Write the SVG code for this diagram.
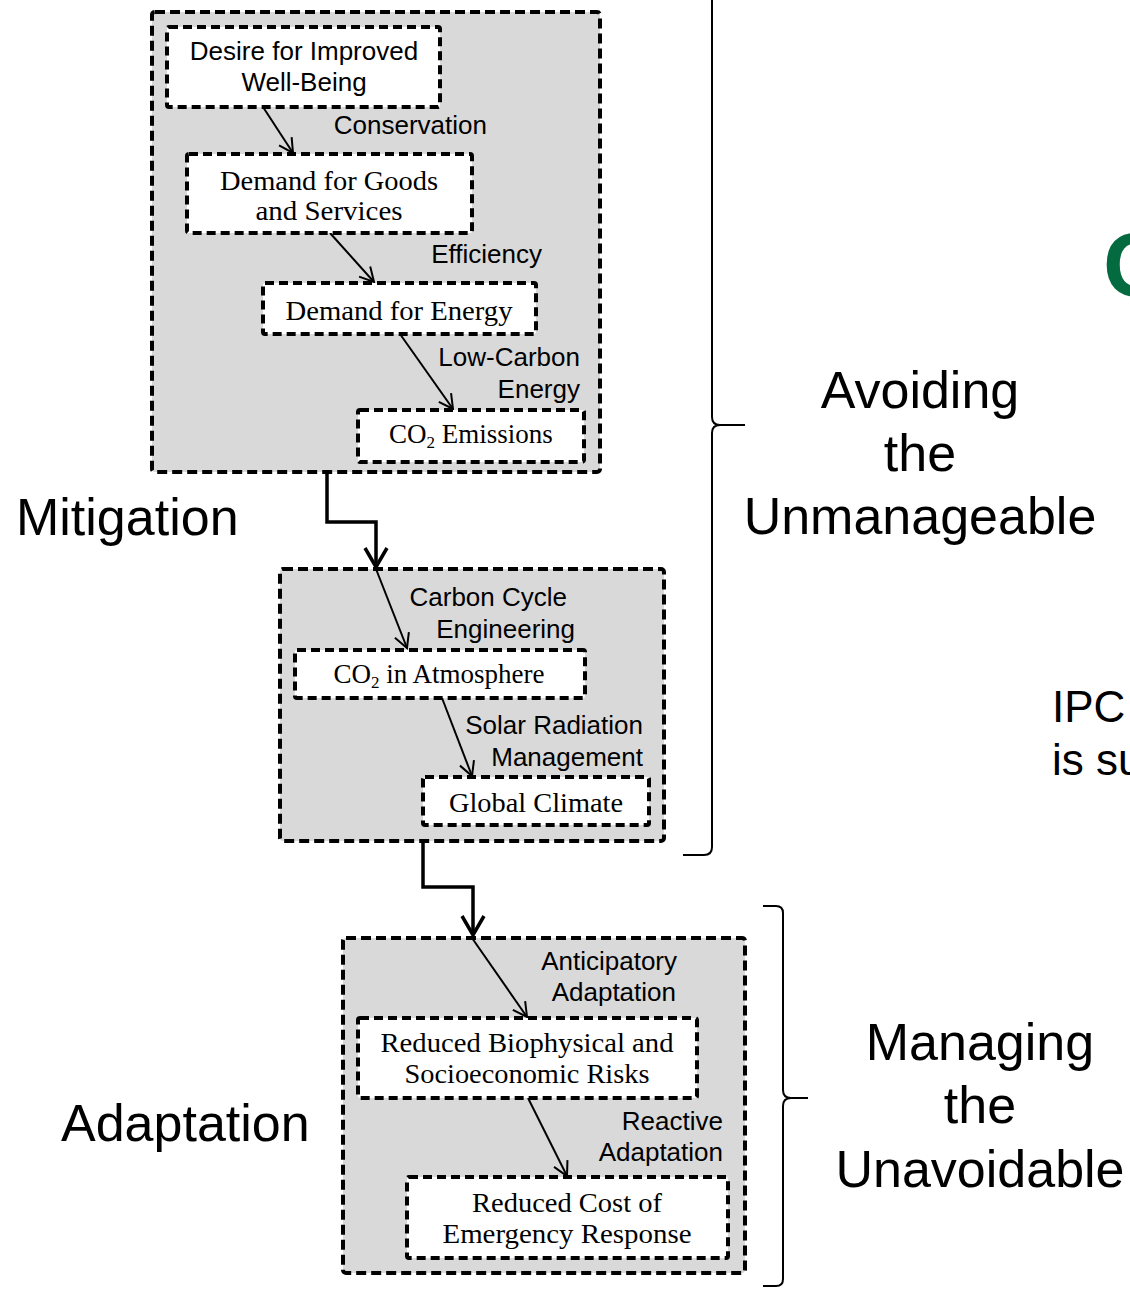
<svg xmlns="http://www.w3.org/2000/svg" width="1130" height="1289" viewBox="0 0 1130 1289">
<style>
.outer{fill:#d9d9d9;stroke:#000;stroke-width:4;stroke-dasharray:10,5}
.inner{fill:#fff;stroke:#000;stroke-width:4;stroke-dasharray:9,5}
.sans{font-family:"Liberation Sans",Arial,sans-serif;font-size:26px;fill:#000}
.serif{font-family:"Liberation Serif","Times New Roman",serif;font-size:27px;fill:#000;text-anchor:middle}
.big{font-family:"Liberation Sans",Arial,sans-serif;font-size:52px;fill:#000}
.thin{fill:none;stroke:#000;stroke-width:2;marker-end:url(#ah)}
.thick{fill:none;stroke:#000;stroke-width:3.5;marker-end:url(#ahb)}
.brace{fill:none;stroke:#000;stroke-width:2}
</style>
<defs>
<marker id="ah" viewBox="0 0 18 18" refX="16" refY="9" markerWidth="18" markerHeight="18" markerUnits="userSpaceOnUse" orient="auto">
<path d="M2,1.5 L16,9 L2,16.5" fill="none" stroke="#000" stroke-width="2"/>
</marker>
<marker id="ahb" viewBox="0 0 24 26" refX="21" refY="13" markerWidth="24" markerHeight="26" markerUnits="userSpaceOnUse" orient="auto">
<path d="M2,2 L21,13 L2,24" fill="none" stroke="#000" stroke-width="3.5"/>
</marker>
</defs>

<g id="mitigation-group">
<rect class="outer" x="152" y="12" width="448" height="460" rx="3"/>
</g>
<g id="engineering-group">
<rect class="outer" x="280" y="569" width="384" height="272" rx="3"/>
</g>
<g id="adaptation-group">
<rect class="outer" x="343" y="938" width="402" height="335" rx="3"/>
</g>

<g id="connectors">
<path class="thin" d="M263,107 L293,153"/>
<path class="thin" d="M330,233 L374,282"/>
<path class="thin" d="M400,334 L453,409"/>
<path class="thick" d="M327,472 L327,522 L376,522 L376,567"/>
<path class="thin" d="M376,569 L407,648"/>
<path class="thin" d="M442,698 L472,776"/>
<path class="thick" d="M423,841 L423,887 L473,887 L473,935"/>
<path class="thin" d="M472,938 L527,1017"/>
<path class="thin" d="M528,1098 L567,1176"/>
</g>

<g id="n-desire">
<rect class="inner" x="167" y="27" width="273" height="80" rx="2"/>
<text class="sans" x="304" y="60" text-anchor="middle">Desire for Improved</text>
<text class="sans" x="304" y="91" text-anchor="middle">Well-Being</text>
</g>
<g id="n-goods">
<rect class="inner" x="187" y="154" width="285" height="79" rx="2"/>
<text class="serif" x="329" y="190" textLength="218" lengthAdjust="spacingAndGlyphs">Demand for Goods</text>
<text class="serif" x="329" y="220" textLength="147" lengthAdjust="spacingAndGlyphs">and Services</text>
</g>
<g id="n-energy">
<rect class="inner" x="263" y="283" width="273" height="51" rx="2"/>
<text class="serif" x="399" y="320" textLength="227" lengthAdjust="spacingAndGlyphs">Demand for Energy</text>
</g>
<g id="n-emissions">
<rect class="inner" x="358" y="410" width="226" height="52" rx="2"/>
<text class="serif" x="471" y="443" font-size="28">CO<tspan font-size="17" dy="5">2</tspan><tspan dy="-5"> Emissions</tspan></text>
</g>
<g id="n-atmosphere">
<rect class="inner" x="295" y="650" width="290" height="48" rx="2"/>
<text class="serif" x="439" y="683" font-size="28">CO<tspan font-size="17" dy="5">2</tspan><tspan dy="-5"> in Atmosphere</tspan></text>
</g>
<g id="n-climate">
<rect class="inner" x="423" y="777" width="226" height="48" rx="2"/>
<text class="serif" x="536" y="812" textLength="174" lengthAdjust="spacingAndGlyphs">Global Climate</text>
</g>
<g id="n-risks">
<rect class="inner" x="358" y="1018" width="339" height="80" rx="2"/>
<text class="serif" x="527" y="1052" textLength="293" lengthAdjust="spacingAndGlyphs">Reduced Biophysical and</text>
<text class="serif" x="527" y="1083" textLength="245" lengthAdjust="spacingAndGlyphs">Socioeconomic Risks</text>
</g>
<g id="n-cost">
<rect class="inner" x="407" y="1177" width="321" height="81" rx="2"/>
<text class="serif" x="567" y="1212" textLength="190" lengthAdjust="spacingAndGlyphs">Reduced Cost of</text>
<text class="serif" x="567" y="1243" textLength="249" lengthAdjust="spacingAndGlyphs">Emergency Response</text>
</g>

<g id="labels">
<text class="sans" x="487" y="134" text-anchor="end">Conservation</text>
<text class="sans" x="542" y="263" text-anchor="end">Efficiency</text>
<text class="sans" x="580" y="366" text-anchor="end">Low-Carbon</text>
<text class="sans" x="580" y="398" text-anchor="end">Energy</text>
<text class="sans" x="567" y="606" text-anchor="end">Carbon Cycle</text>
<text class="sans" x="575" y="638" text-anchor="end">Engineering</text>
<text class="sans" x="643" y="734" text-anchor="end">Solar Radiation</text>
<text class="sans" x="643" y="766" text-anchor="end">Management</text>
<text class="sans" x="677" y="970" text-anchor="end">Anticipatory</text>
<text class="sans" x="676" y="1001" text-anchor="end">Adaptation</text>
<text class="sans" x="723" y="1130" text-anchor="end">Reactive</text>
<text class="sans" x="723" y="1161" text-anchor="end">Adaptation</text>
</g>

<g id="side-labels">
<text class="big" x="16" y="535">Mitigation</text>
<text class="big" x="61" y="1141">Adaptation</text>
<text class="big" x="920" y="408" text-anchor="middle">Avoiding</text>
<text class="big" x="920" y="471" text-anchor="middle">the</text>
<text class="big" x="920" y="534" text-anchor="middle">Unmanageable</text>
<text class="big" x="980" y="1060" text-anchor="middle">Managing</text>
<text class="big" x="980" y="1123" text-anchor="middle">the</text>
<text class="big" x="980" y="1187" text-anchor="middle">Unavoidable</text>
</g>

<g id="braces">
<path class="brace" d="M712,-5 L712,417 Q712,425 720,425 L745,425 M720,425 Q712,425 712,433 L712,847 Q712,855 704,855 L683,855"/>
<path class="brace" d="M763,906 L776,906 Q783,906 783,913 L783,1090 Q783,1098 791,1098 L808,1098 M791,1098 Q783,1098 783,1106 L783,1279 Q783,1286 776,1286 L763,1286"/>
</g>

<g id="cropped-text">
<text x="1103" y="296" font-family="'Liberation Sans',Arial,sans-serif" font-size="90" font-weight="bold" fill="#046a3f">C</text>
<text x="1052" y="722" font-family="'Liberation Sans',Arial,sans-serif" font-size="44" fill="#000">IPC</text>
<text x="1052" y="775" font-family="'Liberation Sans',Arial,sans-serif" font-size="44" fill="#000">is su</text>
</g>
</svg>
